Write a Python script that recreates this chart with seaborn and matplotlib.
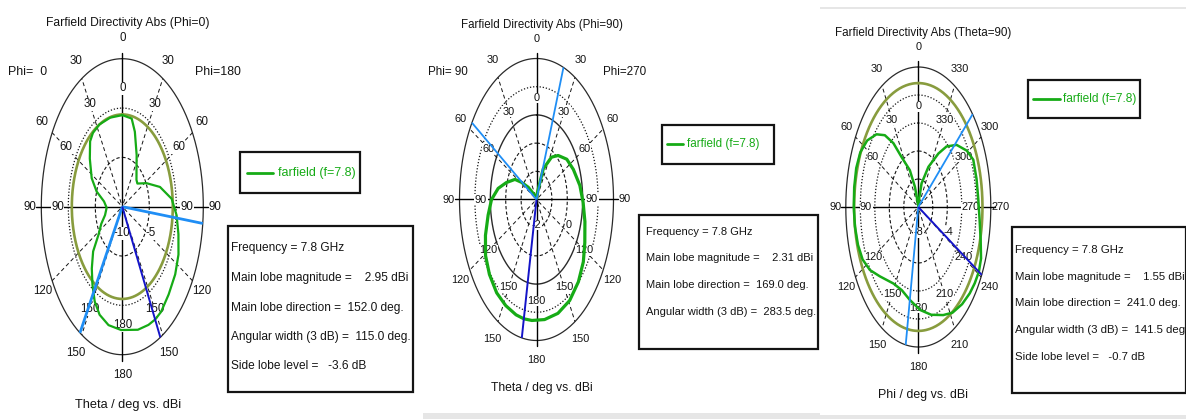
import matplotlib
matplotlib.use("Agg")

import matplotlib.pyplot as plt
import numpy as np
import seaborn as sns
from matplotlib.lines import Line2D
from matplotlib.patches import Rectangle

W, H = 1186, 419
FONT = ["Liberation Sans", "DejaVu Sans"]

GREEN = "#16ab16"
OLIVE = "#889c3e"
LIGHT_BLUE = "#1f8ef5"
DARK_BLUE = "#1414c8"
INK = "#141414"

freq_ghz = 7.8
legend_label = "farfield (f=7.8)"

# Phi=0 cut, angle clockwise from top (right half = Phi=180, left half = Phi=0), dBi
p1_angle = [0, 11, 17, 27, 34, 44, 50, 62, 74, 85, 95, 105, 115, 125, 136, 146, 152, 158, 167, 181,
            192, 201, 208, 215, 222, 230, 237, 246, 255, 268, 279, 288, 297, 309, 318, 324, 333, 346, 360]
p1_dbi = [-0.72, -0.9, -2.05, -4.14, -5.29, -6.22, -6.35, -4.92, -2.74, -0.82, 0.10, 0.76, 1.48, 1.96,
          2.36, 2.85, 2.95, 2.92, 2.80, 2.50, 2.27, 1.73, 0.88, -0.36, -1.56, -2.95, -4.72, -5.74,
          -6.69, -7.1, -6.57, -5.0, -3.64, -2.26, -1.09, -0.75, -0.65, -0.7, -0.72]
p1_range = (-10, 5)
p1_rings = [-5, 0]
p1_radial = ["-10", "-5"]
p1_main = 152.0
p1_edges = [96.5, 211.5]
p1_magnitude = 2.95
p1_width = 115.0
p1_side_lobe = -3.6

# Phi=90 cut, angle clockwise from top (left half = Phi=90, right half = Phi=270), dBi
p2_angle = [0, 14, 22, 33, 42, 54, 66, 80, 92, 104, 116, 126, 137, 149, 161, 173, 184, 191, 198, 208,
            218, 229, 239, 249, 260, 270, 279, 287, 297, 302, 309, 322, 360]
p2_dbi = [-1.95, -1.73, -0.83, -0.21, 0.10, 0.43, 0.62, 0.86, 1.03, 1.24, 1.49, 1.76, 1.99, 2.18,
          2.27, 2.29, 2.30, 2.31, 2.30, 2.26, 2.20, 2.05, 1.86, 1.55, 1.19, 0.92, 0.52, 0.05, -0.43,
          -0.85, -1.31, -1.82, -1.95]
p2_range = (-2, 3)
p2_rings = [-1, 0, 1, 2]
p2_radial = ["-2", "0"]
p2_main = 169.0
p2_edges = [20.5, 303.0]
p2_magnitude = 2.31
p2_width = 283.5

# Theta=90 cut, phi in degrees (counter-clockwise), dBi
p3_phi = [0, 18, 24, 33, 37, 42, 48, 56, 64, 72, 81, 90, 99, 108, 116, 124, 133, 148, 159, 170,
          182, 193, 204, 212, 221, 229, 235, 241, 247, 255, 264, 274, 284, 294, 301, 310, 318, 324,
          334, 345, 350, 360]
p3_dbi = [-7.9, -6.48, -5.12, -3.73, -2.29, -1.1, -0.24, 0.5, 0.9, 1.0, 0.95, 0.9, 0.85, 0.75, 0.55,
          0.05, -0.74, -1.55, -1.64, -1.26, -0.64, -0.1, 0.45, 0.9, 1.2, 1.4, 1.5, 1.55, 1.4, 0.9,
          0.5, 0.29, 0.28, 0.3, -0.19, -1.1, -2.18, -3.28, -4.81, -6.25, -7.49, -7.9]
p3_range = (-8, 2)
p3_rings = [-6, -4, -2, 0]
p3_radial = ["-8", "-4"]
p3_main = 241.0
p3_edges = [311.5, 170.0]
p3_magnitude = 1.55
p3_width = 141.5
p3_side_lobe = -0.7


def px(x, y):
    return x / W, 1 - y / H


def to_xy(angle, r):
    t = np.deg2rad(np.asarray(angle, dtype=float))
    r = np.asarray(r, dtype=float)
    return r * np.sin(t), r * np.cos(t)


def polar_axes(fig, cx, cy, a, b, lim=1.45):
    ax = fig.add_axes([(cx - a * lim) / W, 1 - (cy + b * lim) / H, 2 * a * lim / W, 2 * b * lim / H])
    ax.set_xlim(-lim, lim)
    ax.set_ylim(-lim, lim)
    ax.axis("off")
    return ax


def ring(ax, r, **kw):
    x, y = to_xy(np.linspace(0, 360, 361), np.full(361, r))
    ax.plot(x, y, **kw)


def draw_panel(ax, angle, dbi, lo, hi, rings, ring_styles, main, edges, side_abs,
               label_fn, skip_inner, r_in, radial, size, green_lw, edge_lw):
    scale = lambda v: (np.asarray(v, dtype=float) - lo) / (hi - lo)
    fs = 8.3 * size

    ring(ax, 1.0, color="#2a2a2a", lw=0.9, zorder=2)
    for val, style in zip(rings, ring_styles):
        ring(ax, scale(val), zorder=2, **style)
    for s in [30, 60, 120, 150, 210, 240, 300, 330]:
        x, y = to_xy([s, s], [0.03, 1.0])
        ax.plot(x, y, color=INK, lw=0.7, ls=(0, (4, 3)), zorder=2)
    ax.plot([-1.06, 1.06], [0, 0], color="black", lw=1.0, zorder=2)
    ax.plot([0, 0], [-1.04, 1.04], color="black", lw=1.0, zorder=2)

    for s in range(0, 360, 30):
        x, y = to_xy(s, 1.14)
        ax.text(x, y, label_fn(s), ha="center", va="center", fontsize=fs, color=INK)
        if s in skip_inner:
            continue
        x, y = to_xy(s, r_in)
        ax.text(x, y, label_fn(s), ha="center", va="center", fontsize=fs, color=INK,
                zorder=3, bbox=dict(fc="white", ec="none", pad=0.3))

    ax.text(0.0, -0.18, radial[0], ha="center", va="center", fontsize=fs, color=INK,
            zorder=3, bbox=dict(fc="white", ec="none", pad=0.2))
    ax.text(scale(rings[1] if len(rings) > 2 else rings[0]) + 0.02, -0.18, radial[1], ha="center",
            va="center", fontsize=fs, color=INK, zorder=3,
            bbox=dict(fc="white", ec="none", pad=0.2))

    if side_abs is not None:
        ring(ax, scale(side_abs), color=OLIVE, lw=1.9, zorder=3.5)

    x, y = to_xy(angle, scale(dbi))
    sns.lineplot(x=x, y=y, sort=False, estimator=None, color=GREEN, lw=green_lw, ax=ax,
                 zorder=4, legend=False)

    for e in edges:
        x, y = to_xy([e, e], [0, 1.0])
        ax.plot(x, y, color=LIGHT_BLUE, lw=edge_lw, zorder=5, solid_capstyle="butt")
    x, y = to_xy([main, main], [0, 1.0])
    ax.plot(x, y, color=DARK_BLUE, lw=1.4, zorder=5, solid_capstyle="butt")


def legend_box(fig, x0, y0, x1, y1, lx0, lx1, tx, size):
    l, b = px(x0, y1)
    fig.add_artist(Rectangle((l, b), (x1 - x0) / W, (y1 - y0) / H, transform=fig.transFigure,
                             fill=False, ec=INK, lw=1.6))
    yc = 1 - (y0 + y1) / 2 / H
    fig.add_artist(Line2D([lx0 / W, lx1 / W], [yc, yc], transform=fig.transFigure, color=GREEN, lw=2.0))
    fig.text(tx / W, yc, legend_label, ha="left", va="center", fontsize=9.0 * size, color=GREEN)


def info_box(fig, x0, y0, x1, y1, tx, ys, lines, size):
    l, b = px(x0, y1)
    fig.add_artist(Rectangle((l, b), (x1 - x0) / W, (y1 - y0) / H, transform=fig.transFigure,
                             fill=False, ec=INK, lw=1.6))
    for txt, y in zip(lines, ys):
        fig.text(*px(tx, y), txt, ha="left", va="center", fontsize=8.6 * size, color=INK)


def info_lines(mag, direction, width, side=None):
    out = [f"Frequency = {freq_ghz} GHz",
           f"Main lobe magnitude =    {mag:.2f} dBi",
           f"Main lobe direction =  {direction:.1f} deg.",
           f"Angular width (3 dB) =  {width:.1f} deg."]
    if side is not None:
        out.append(f"Side lobe level =   {side:.1f} dB")
    return out


sns.set_style("white")
plt.rcParams["font.family"] = FONT

fig = plt.figure(figsize=(W / 100, H / 100), dpi=100)

# light frame strips of the pasted screenshots
for x0, y0, x1, y1 in [(423, 413, 820, 419), (820, 7, 1186, 9), (820, 415, 1186, 419)]:
    l, b = px(x0, y1)
    fig.add_artist(Rectangle((l, b), (x1 - x0) / W, (y1 - y0) / H, transform=fig.transFigure,
                             fc="#e6e6e6", ec="none"))

theta_label = lambda s: str(s if s <= 180 else 360 - s)
phi_label = lambda s: str((360 - s) % 360)

# panel 1
ax1 = polar_axes(fig, 122.3, 206.7, 81, 148)
draw_panel(ax1, p1_angle, p1_dbi, *p1_range, p1_rings,
           [dict(color=INK, lw=0.8, ls=(0, (3, 2))), dict(color=INK, lw=0.9, ls=(0, (1, 1.5)))],
           p1_main, p1_edges, p1_magnitude + p1_side_lobe, theta_label, [120, 240], 0.8,
           p1_radial, 1.0, 1.6, 2.0)
fig.text(*px(128, 23), "Farfield Directivity Abs (Phi=0)", ha="center", va="center", fontsize=8.7, color=INK)
fig.text(*px(128, 405), "Theta / deg vs. dBi", ha="center", va="center", fontsize=9.2, color=INK)
fig.text(*px(28, 72), "Phi=  0", ha="center", va="center", fontsize=8.9, color=INK)
fig.text(*px(218, 72), "Phi=180", ha="center", va="center", fontsize=8.9, color=INK)
legend_box(fig, 240, 152, 360, 193, 247, 273, 278, 1.0)
info_box(fig, 228, 226, 413, 392, 231, [248, 278, 308, 337, 366],
         info_lines(p1_magnitude, p1_main, p1_width, p1_side_lobe), 1.0)

# panel 2
ax2 = polar_axes(fig, 536.5, 199.5, 77, 141)
draw_panel(ax2, p2_angle, p2_dbi, *p2_range, p2_rings,
           [dict(color=INK, lw=0.8, ls=(0, (3, 2))), dict(color=INK, lw=0.8, ls=(0, (3, 2))),
            dict(color="#2a2a2a", lw=1.0), dict(color=INK, lw=0.9, ls=(0, (1, 1.5)))],
           360 - p2_main, p2_edges, None, theta_label, [], 0.72,
           p2_radial, 0.95, 2.3, 1.3)
fig.text(*px(541.7, 25), "Farfield Directivity Abs (Phi=90)", ha="center", va="center", fontsize=8.3, color=INK)
fig.text(*px(541.7, 388), "Theta / deg vs. dBi", ha="center", va="center", fontsize=8.7, color=INK)
fig.text(*px(448, 72), "Phi= 90", ha="center", va="center", fontsize=8.4, color=INK)
fig.text(*px(625, 72), "Phi=270", ha="center", va="center", fontsize=8.4, color=INK)
legend_box(fig, 662, 125, 774, 164, 667, 683, 687, 0.93)
info_box(fig, 639, 215, 818, 349, 646, [232, 258, 285, 312],
         info_lines(p2_magnitude, p2_main, p2_width), 0.93)

# panel 3
ax3 = polar_axes(fig, 918.3, 207, 72.5, 140)
draw_panel(ax3, [360 - p for p in p3_phi], p3_dbi, *p3_range, p3_rings,
           [dict(color=INK, lw=0.8, ls=(0, (3, 2))), dict(color=INK, lw=0.8, ls=(0, (3, 2))),
            dict(color=INK, lw=0.9, ls=(0, (1, 1.5))), dict(color=INK, lw=0.9, ls=(0, (1, 1.5)))],
           360 - p3_main, [360 - e for e in p3_edges], p3_magnitude + p3_side_lobe, phi_label, [], 0.72,
           p3_radial, 0.95, 1.8, 1.3)
fig.text(*px(923, 33), "Farfield Directivity Abs (Theta=90)", ha="center", va="center", fontsize=8.4, color=INK)
fig.text(*px(923, 395), "Phi / deg vs. dBi", ha="center", va="center", fontsize=8.9, color=INK)
legend_box(fig, 1028, 80, 1140, 118, 1033, 1060, 1063, 0.95)
info_box(fig, 1012, 227, 1186, 393, 1015, [250, 277, 303, 330, 357],
         info_lines(p3_magnitude, p3_main, p3_width, p3_side_lobe), 0.95)

fig.savefig("out.png", dpi=100)
